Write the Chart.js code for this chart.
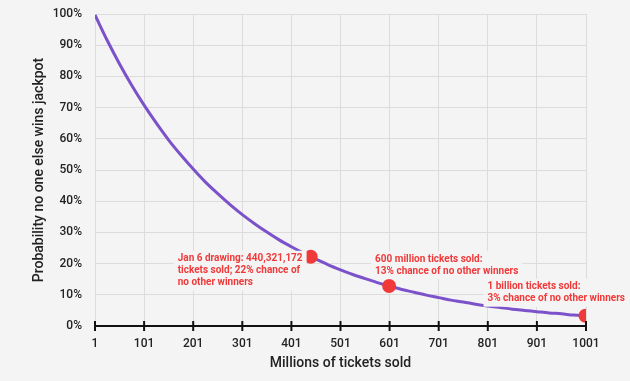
<!DOCTYPE html>
<html>
<head>
<meta charset="utf-8">
<script src="https://cdn.jsdelivr.net/npm/chart.js@4"></script>
<style>
html,body{margin:0;padding:0;background:#f4f4f4;}
#wrap{width:630px;height:381px;}
</style>
</head>
<body>
<div id="wrap"><canvas id="c" width="630" height="381"></canvas></div>
<script>
// Millions of tickets sold (x) and probability no one else wins, % (y)
const ticketsSold = [1,26,51,76,101,126,151,176,201,226,251,276,301,326,351,376,401,426,451,476,501,526,551,576,601,626,651,676,701,726,751,776,801,826,851,876,901,926,951,976,1001];
const probability = [99.7,91.5,84.0,77.1,70.8,65.0,59.6,54.8,50.3,46.1,42.4,38.9,35.7,32.8,30.1,27.6,25.4,23.3,21.4,19.6,18.0,16.5,15.2,13.9,12.8,11.7,10.8,9.9,9.1,8.3,7.7,7.0,6.4,5.9,5.4,5.0,4.6,4.2,3.9,3.5,3.3];
// Highlighted points
const markX = [440.3, 600, 1000];
const markY = [22.2, 12.8, 3.3];
const markLabels = [
  ["Jan 6 drawing: 440,321,172", "tickets sold; 22% chance of", "no other winners"],
  ["600 million tickets sold:", "13% chance of no other winners"],
  ["1 billion tickets sold:", "3% chance of no other winners"]
];
// Tick labels
const xTicks = [1,101,201,301,401,501,601,701,801,901,1001];
const yTicks = [0,10,20,30,40,50,60,70,80,90,100];

const labelOffsets = [{dx:-133, dy:2},{dx:-14, dy:-27},{dx:-98, dy:-29}];

const axisTicksPlugin = {
  id:'axisTicks',
  afterDatasetsDraw(chart){
    const ctx = chart.ctx, xs = chart.scales.x, ys = chart.scales.y;
    const y0 = ys.getPixelForValue(0);
    ctx.save();
    ctx.strokeStyle = '#111';
    ctx.lineWidth = 2;
    ctx.beginPath();
    ctx.moveTo(xs.getPixelForValue(xTicks[0]) - 1, y0);
    ctx.lineTo(xs.getPixelForValue(xTicks[xTicks.length-1]) + 1, y0);
    ctx.stroke();
    xTicks.forEach(t => {
      const px = xs.getPixelForValue(t);
      ctx.beginPath();
      ctx.moveTo(px, y0 - 5);
      ctx.lineTo(px, y0 + 5);
      ctx.stroke();
    });
    ctx.restore();
  }
};

const notesPlugin = {
  id:'notes',
  afterDatasetsDraw(chart){
    const ctx = chart.ctx, xs = chart.scales.x, ys = chart.scales.y;
    ctx.save();
    ctx.font = 'bold 10px Roboto';
    ctx.textBaseline = 'middle';
    ctx.textAlign = 'left';
    markLabels.forEach((lines, i) => {
      const px = xs.getPixelForValue(markX[i]) + labelOffsets[i].dx;
      const py = ys.getPixelForValue(markY[i]) + labelOffsets[i].dy;
      const lh = 12;
      const w = Math.max(...lines.map(l => ctx.measureText(l).width));
      ctx.fillStyle = '#f4f4f4';
      ctx.fillRect(px - 4, py - 8, w + 8, lh * lines.length + 4);
      ctx.fillStyle = '#f03a3a';
      lines.forEach((l, k) => ctx.fillText(l, px, py + k * lh));
    });
    ctx.restore();
  }
};

new Chart(document.getElementById('c'), {
  type: 'scatter',
  data: {
    datasets: [
      {
        data: markX.map((x, i) => ({x, y: markY[i]})),
        pointRadius: 7,
        pointHoverRadius: 7,
        pointBackgroundColor: '#f03a3a',
        pointBorderWidth: 0,
        showLine: false,
        order: 0
      },
      {
        data: ticketsSold.map((x, i) => ({x, y: probability[i]})),
        showLine: true,
        borderColor: '#7b52c9',
        borderWidth: 3,
        pointRadius: 0,
        tension: 0.4,
        cubicInterpolationMode: 'monotone',
        order: 1
      }
    ]
  },
  options: {
    responsive: false,
    animation: false,
    events: [],
    layout: { padding: { top: 0, right: 44, bottom: 2, left: 31 } },
    plugins: { legend: { display: false }, tooltip: { enabled: false } },
    scales: {
      x: {
        type: 'linear',
        min: 1, max: 1001,
        afterBuildTicks: s => { s.ticks = xTicks.map(v => ({value: v})); },
        afterFit: s => { s.height = 53; },
        grid: { color: '#dcdcdc', lineWidth: 1, drawTicks: false },
        border: { display: false },
        ticks: { color: '#222', font: { family: 'Roboto', size: 12, weight: '500' }, padding: 11, maxRotation: 0, autoSkip: false, callback: v => String(v) },
        title: { display: true, text: 'Millions of tickets sold', color: '#222', font: { family: 'Roboto', size: 14, weight: '500' }, padding: { top: 0, bottom: 7 } }
      },
      y: {
        min: 0, max: 100,
        afterBuildTicks: s => { s.ticks = yTicks.map(v => ({value: v})); },
        afterFit: s => { s.width = 64; s.paddingTop = 14; },
        grid: { color: '#dcdcdc', lineWidth: 1, drawTicks: false },
        border: { display: false },
        ticks: { color: '#222', font: { family: 'Roboto', size: 12, weight: '500' }, padding: 13, callback: v => v + '%' },
        title: { display: true, text: 'Probability no one else wins jackpot', color: '#222', font: { family: 'Roboto', size: 14, weight: '500' }, padding: { top: 0, bottom: 4 } }
      }
    }
  },
  plugins: [axisTicksPlugin, notesPlugin]
});
</script>
</body>
</html>
